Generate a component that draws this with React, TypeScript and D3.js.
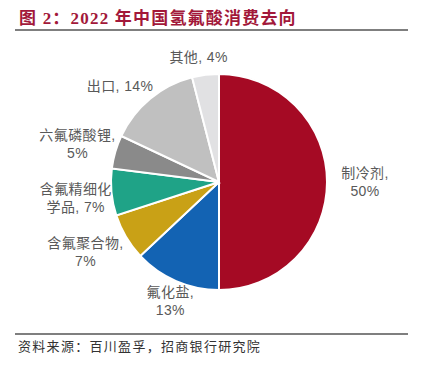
import React from "react";
import * as d3 from "d3";

const categories = ["制冷剂", "氟化盐", "含氟聚合物", "含氟精细化学品", "六氟磷酸锂", "出口", "其他"];
const values = [50, 13, 7, 7, 5, 14, 4];
const labelLines = [
  ["制冷剂,", "50%"],
  ["氟化盐,", "13%"],
  ["含氟聚合物,", "7%"],
  ["含氟精细化", "学品, 7%"],
  ["六氟磷酸锂,", "5%"],
  ["出口, 14%"],
  ["其他, 4%"],
];
const colors = ["#A50A24", "#1363B3", "#C9A116", "#1FA387", "#8A8A8A", "#C0C0C0", "#E1E1E3"];

const W = 427, H = 367;
const cx = 219, cy = 182, R = 108;
// small layout nudges for label placement (pixels)
const nudge: [number, number][] = [[0, 0], [5, -5], [-10, -3], [2, 2], [-2, 3], [-10, 11], [-4, 4]];

export default function App() {
  const pie = d3.pie<number>().sort(null).value((d) => d)(values);
  const arc = d3.arc<d3.PieArcDatum<number>>().innerRadius(0).outerRadius(R);
  const font = "'Liberation Sans', 'Noto Sans CJK SC', sans-serif";
  return (
    <svg width={W} height={H} style={{ position: "absolute", left: 0, top: 0, background: "#fff" }}>
      <text x={19} y={24} fill="#A2183A" fontSize={17} fontWeight="bold"
        fontFamily="'Liberation Serif', 'Noto Sans CJK SC', serif" letterSpacing={1.2}>
        图 2：2022 年中国氢氟酸消费去向
      </text>
      <line x1={15} x2={408} y1={30} y2={30} stroke="#555" strokeWidth={1.5} />
      <g transform={`translate(${cx},${cy})`}>
        {pie.map((p, i) => (
          <path key={i} d={arc(p) || ""} fill={colors[i]} stroke="#fff" strokeWidth={2} />
        ))}
        {pie.map((p, i) => {
          const a = (p.startAngle + p.endAngle) / 2;
          const lr = R + 20 + 18 * Math.abs(Math.sin(a));
          const x = lr * Math.sin(a) + nudge[i][0];
          const y = -lr * Math.cos(a) + nudge[i][1];
          const lines = labelLines[i];
          const lh = 18;
          const y0 = y - ((lines.length - 1) * lh) / 2 + 5;
          return (
            <text key={"l" + i} textAnchor="middle" fill="#595959" fontSize={14} fontFamily={font}
              letterSpacing={0.4}>
              {lines.map((t, j) => (
                <tspan key={j} x={x} y={y0 + j * lh}>{t}</tspan>
              ))}
            </text>
          );
        })}
      </g>
      <line x1={15} x2={408} y1={334} y2={334} stroke="#555" strokeWidth={1.5} />
      <text x={18} y={351} fill="#333" fontSize={13} letterSpacing={1.3}
        fontFamily="'Noto Sans CJK SC', sans-serif">
        资料来源：百川盈孚，招商银行研究院
      </text>
    </svg>
  );
}
